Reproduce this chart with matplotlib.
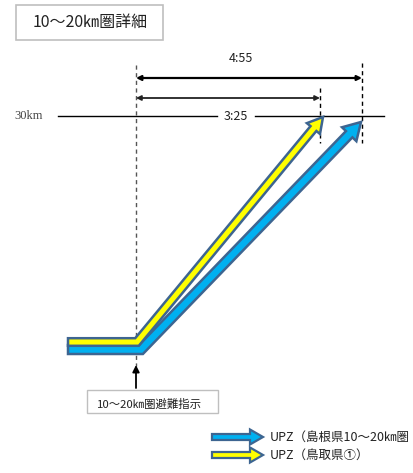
import numpy as np
import matplotlib.pyplot as plt
from matplotlib.patches import Polygon, Rectangle

plt.rcParams['font.family'] = ['Noto Sans CJK JP', 'DejaVu Sans']

title = '10～20㎞圏詳細'
order_label = '10～20㎞圏避難指示'
ring_label = '30km'
times = ['3:25', '4:55']
series = ['UPZ（島根県10～20㎞圏', 'UPZ（鳥取県①）']
fills = ['#00b0f0', '#ffff00']
edge = '#3d6591'

# routes drawn in pixel space: start, bend, tip
blue_route = [(68, 349.5), (141, 349.5), (361, 122)]
yellow_route = [(68, 342), (137, 342), (323, 117)]
order_x = 136
arrive_x = [320, 362]
ring_y = 116


def arrow_poly(pts, hw, hl, hh):
    # outline of a fat arrow along a polyline, miter joins
    p = np.asarray(pts, float)
    d = np.diff(p, axis=0)
    d = d / np.linalg.norm(d, axis=1)[:, None]
    n = np.c_[-d[:, 1], d[:, 0]]
    offs = [n[0]]
    for i in range(1, len(p) - 1):
        m = n[i - 1] + n[i]
        offs.append(m / np.dot(m, n[i]))
    base = p[-1] - d[-1] * hl
    left = [p[i] + offs[i] * hw for i in range(len(p) - 1)]
    left += [base + n[-1] * hw, base + n[-1] * hh]
    right = [base - n[-1] * hh, base - n[-1] * hw]
    right += [p[i] - offs[i] * hw for i in reversed(range(len(p) - 1))]
    return np.array(left + [p[-1]] + right)


fig = plt.figure(figsize=(4.14, 4.73), dpi=100)
ax = fig.add_axes([0, 0, 1, 1])
ax.set_xlim(0, 414)
ax.set_ylim(473, 0)
ax.axis('off')

# title box
ax.add_patch(Rectangle((16, 5), 147, 35, fc='white', ec='#bfbfbf', lw=1.2))
ax.text(90, 22.5, title, fontsize=11.5, ha='center', va='center', color='#222222')

# evacuation order line
ax.plot([order_x, order_x], [65, 366], ls=(0, (3, 2.5)), color='#555555', lw=1)
ax.annotate('', xy=(order_x, 365), xytext=(order_x, 388),
            arrowprops=dict(arrowstyle='-|>', color='black', lw=1.3,
                            mutation_scale=10, shrinkA=0, shrinkB=0))
ax.add_patch(Rectangle((87, 390), 131, 23, fc='white', ec='#bfbfbf', lw=1))
ax.text(97, 404, order_label, fontsize=8.2, ha='left', va='center', color='#222222')

# arrival lines
ax.plot([arrive_x[0]] * 2, [88, 143], ls=(0, (3, 2.5)), color='black', lw=1)
ax.plot([arrive_x[1]] * 2, [63, 143], ls=(0, (3, 2.5)), color='black', lw=1)

# 30km ring
ax.plot([58, 217], [ring_y, ring_y], color='black', lw=1)
ax.plot([255, 384], [ring_y, ring_y], color='black', lw=1)
ax.text(14, ring_y, ring_label, fontsize=9, family='Liberation Serif',
        ha='left', va='center', color='#444444')

# duration arrows
ax.annotate('', xy=(arrive_x[1], 78), xytext=(order_x, 78),
            arrowprops=dict(arrowstyle='<|-|>', color='black', lw=1.6,
                            mutation_scale=7, shrinkA=0, shrinkB=0))
ax.annotate('', xy=(arrive_x[0], 98), xytext=(order_x, 98),
            arrowprops=dict(arrowstyle='<|-|>', color='#222222', lw=1.3,
                            mutation_scale=7, shrinkA=0, shrinkB=0))
ax.text(241, 58, times[1], fontsize=9, ha='center', va='center', color='#222222')
ax.text(236, ring_y, times[0], fontsize=9, ha='center', va='center', color='#222222')

# evacuation routes
ax.add_patch(Polygon(arrow_poly(blue_route, 4.5, 17, 10), closed=True,
                     fc=fills[0], ec=edge, lw=1.8, joinstyle='miter', zorder=3))
ax.add_patch(Polygon(arrow_poly(yellow_route, 3.8, 15, 8.5), closed=True,
                     fc=fills[1], ec=edge, lw=1.8, joinstyle='miter', zorder=4))

# legend
for i, (lab, fc) in enumerate(zip(series, fills)):
    y = 437 + 18 * i
    ax.add_patch(Polygon(arrow_poly([(212, y), (263, y)], 3, 13, 7.5), closed=True,
                         fc=fc, ec=edge, lw=1.6, joinstyle='miter'))
    ax.text(270, y, lab, fontsize=9, ha='left', va='center', color='#222222')

fig.savefig('out.png', dpi=100)
